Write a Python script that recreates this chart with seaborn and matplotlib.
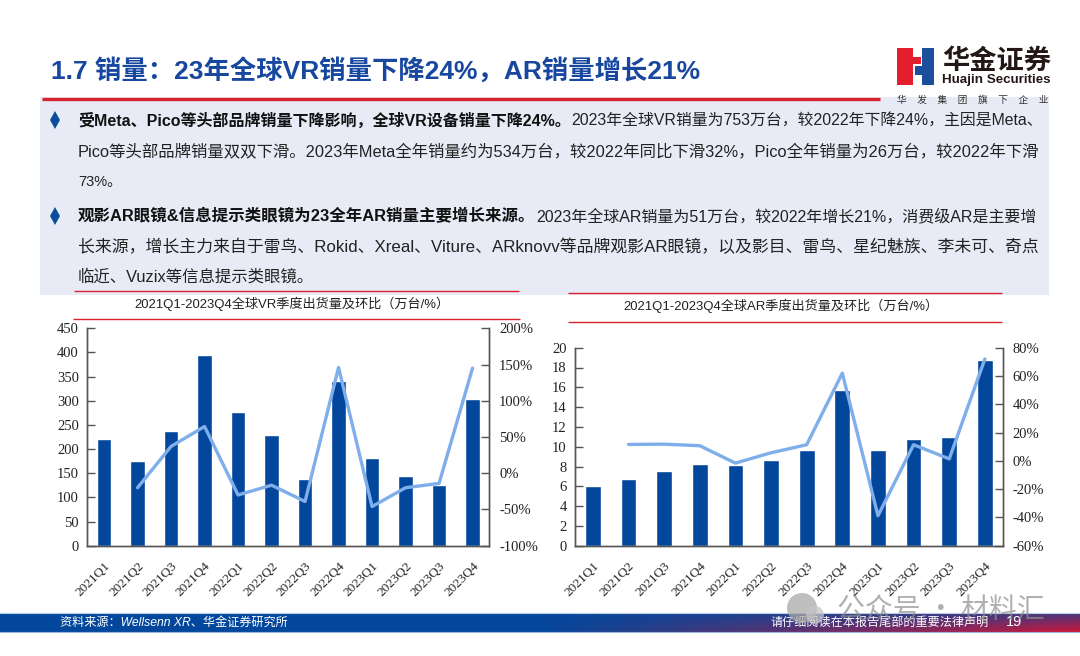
# VR / AR shipment slide
import numpy as np
import pandas as pd
import matplotlib
matplotlib.use('Agg')
import matplotlib.pyplot as plt
from matplotlib.patches import Rectangle, Circle
from matplotlib.ticker import FuncFormatter
import seaborn as sns

quarters = ['2021Q1', '2021Q2', '2021Q3', '2021Q4', '2022Q1', '2022Q2',
            '2022Q3', '2022Q4', '2023Q1', '2023Q2', '2023Q3', '2023Q4']
vr_units = [220, 176, 238, 394, 276, 230, 139, 341, 182, 144, 125, 303]
vr_qoq = [np.nan, -20, 37, 64.5, -30, -16.5, -39, 146, -46, -20, -14, 145]
ar_units = [6.0, 6.7, 7.5, 8.3, 8.2, 8.7, 9.7, 15.7, 9.7, 10.8, 11.0, 18.8]
ar_qoq = [np.nan, 11.6, 11.8, 10.7, -1.6, 5.7, 11.4, 62, -38.8, 11.4, 1.4, 72]

title = '1.7 销量：23年全球VR销量下降24%，AR销量增长21%'
vr_title = '2021Q1-2023Q4全球VR季度出货量及环比（万台/%）'
ar_title = '2021Q1-2023Q4全球AR季度出货量及环比（万台/%）'
body_lines = [
    (120.5, '受Meta、Pico等头部品牌销量下降影响，全球VR设备销量下降24%。',
     '2023年全球VR销量为753万台，较2022年下降24%，主因是Meta、', 1043),
    (151.5, '', 'Pico等头部品牌销量双双下滑。2023年Meta全年销量约为534万台，较2022年同比下滑32%，Pico全年销量为26万台，较2022年下滑', 1040),
    (182, '', '73%。', None),
    (216, '观影AR眼镜&信息提示类眼镜为23全年AR销量主要增长来源。',
     '2023年全球AR销量为51万台，较2022年增长21%，消费级AR是主要增', 1040),
    (246.5, '', '长来源，增长主力来自于雷鸟、Rokid、Xreal、Viture、ARknovv等品牌观影AR眼镜，以及影目、雷鸟、星纪魅族、李未可、奇点', 1040),
    (277, '', '临近、Vuzix等信息提示类眼镜。', 315),
]

W, H = 1080, 656
BLUE = '#03479C'
LINE = '#7FAEEA'
RED = '#D9232E'
slide_font = ['Liberation Sans', 'Noto Sans CJK SC']
tick_font = 'Liberation Serif'

sns.set_theme(style='white')
plt.rcParams['font.family'] = slide_font

fig = plt.figure(figsize=(W / 100, H / 100), dpi=100, facecolor='white')
bg = fig.add_axes([0, 0, 1, 1], zorder=0)
bg.set_xlim(0, W)
bg.set_ylim(H, 0)
bg.axis('off')
renderer = fig.canvas.get_renderer()


def fit_text(ax, x0, x1, y, s, **kw):
    # scale the font so the text spans x0..x1 pixels
    t = ax.text(x0, y, s, va='center', ha='left', **kw)
    t.set_fontsize(t.get_fontsize() * (x1 - x0) / t.get_window_extent(renderer).width)
    return t


def hline(x0, x1, y, lw=1.0):
    bg.plot([x0, x1], [y, y], color=RED, lw=lw, solid_capstyle='butt')


# panel, rules, title
bg.add_patch(Rectangle((40, 96.5), 1009, 198.5, color='#E8EBF6', lw=0))
hline(42, 880, 99, lw=2.4)
hline(74, 519, 291)
hline(568, 1002, 293)
hline(73, 520, 319)
hline(568, 1002, 321.5)
fit_text(bg, 51, 701, 71, title, color='#17479E', fontsize=17, fontweight='bold')

# logo
bg.add_patch(Rectangle((897, 48), 16, 37, color='#E31E2D', lw=0))
bg.add_patch(Rectangle((913, 57), 8, 7, color='#E31E2D', lw=0))
bg.add_patch(Rectangle((922, 48), 12, 37, color='#1B4F9C', lw=0))
bg.add_patch(Rectangle((915, 66), 7, 9, color='#1B4F9C', lw=0))
fit_text(bg, 942, 1051, 61, '华金证券', color='#231815', fontsize=19, fontweight='bold',
         family='Noto Sans CJK SC')
fit_text(bg, 942, 1051, 80, 'Huajin Securities', color='#231815', fontsize=9, fontweight='bold',
         family='Liberation Sans')
fit_text(bg, 897, 1049, 100, '     '.join('华发集团旗下企业'), color='#333333', fontsize=7,
         family='Noto Sans CJK SC')

# body text, bold lead then regular
for y, lead, rest, x_end in body_lines:
    x = 78
    if lead:
        n = fit_text(bg, 78, 571 if y < 200 else 534, y, lead, color='#111111',
                     fontsize=9, fontweight='bold')
        x = n.get_window_extent(renderer).x1 + 1
    if x_end is None:
        bg.text(x, y, rest, va='center', color='#222222', fontsize=10.5)
    else:
        fit_text(bg, x, x_end, y, rest, color='#222222', fontsize=9)
bg.plot([55, 55], [120, 216], ls='none', marker='d', ms=9, color='#0B4F9C', mew=0)

# footer band, blue turning red towards the lower right corner
xx, yy = np.meshgrid(np.linspace(0, 1, 300), np.linspace(0, 1, 20))
mix = np.clip((xx - 0.5) / 0.5, 0, 1) * (0.35 + 0.65 * yy)
band = np.zeros(xx.shape + (3,))
for i, (a, b) in enumerate(zip((3, 71, 156), (200, 24, 60))):
    band[..., i] = (a + (b - a) * mix) / 255
bg.imshow(band, extent=(0, W, 632, 613), aspect='auto', zorder=1)
bg.set_xlim(0, W)
bg.set_ylim(H, 0)
bg.plot([0, W], [612.8, 612.8], color='#B9CDE6', lw=0.8, zorder=2)
bg.plot([0, W], [632, 632], color='#9DB8DC', lw=0.8, zorder=2)
fit_text(bg, 60, 288, 622.5, '资料来源：Wellsenn XR、华金证券研究所', color='white',
         fontsize=8, style='italic', zorder=3)
fit_text(bg, 770, 988, 622.5, '请仔细阅读在本报告尾部的重要法律声明', color='white',
         fontsize=8, family='Noto Sans CJK SC', zorder=3)
bg.text(1014, 622.5, '19', color='white', fontsize=10.5, ha='center', va='center', zorder=3,
        family='Liberation Sans')


def combo(box, units, qoq, ymax, ystep, rmin, rmax, rstep, name, title_span, title_y):
    left, top, right, bottom = box
    ax = fig.add_axes([left / W, 1 - bottom / H, (right - left) / W, (bottom - top) / H], zorder=2)
    ax.patch.set_alpha(0)
    df = pd.DataFrame({'quarter': quarters, 'units': units, 'qoq': qoq, 'pos': range(len(quarters))})
    sns.barplot(data=df, x='quarter', y='units', color=BLUE, width=0.44, saturation=1, ax=ax)
    ax.set_xlim(-0.5, len(quarters) - 0.5)
    ax.set_ylim(0, ymax)
    ax.set_yticks(np.arange(0, ymax + ystep, ystep))
    ax.set_xlabel('')
    ax.set_ylabel('')
    ax.tick_params(axis='x', length=0, pad=10)
    ax.tick_params(axis='y', direction='in', length=5.5, width=1, color='#555555', pad=6)
    for lab in ax.get_xticklabels():
        lab.set(rotation=45, ha='right', rotation_mode='anchor', family=tick_font,
                fontsize=9.6, color='#222222')
    for lab in ax.get_yticklabels():
        lab.set(family=tick_font, fontsize=10.5, color='#222222')

    ax2 = ax.twinx()
    sns.lineplot(data=df, x='pos', y='qoq', color=LINE, lw=2.4, sort=False, ax=ax2)
    ax2.set_xlim(-0.5, len(quarters) - 0.5)
    ax2.set_ylim(rmin, rmax)
    ax2.set_yticks(np.arange(rmin, rmax + rstep, rstep))
    ax2.yaxis.set_major_formatter(FuncFormatter(lambda v, _: f'{v:.0f}%'))
    ax2.set_ylabel('')
    ax2.tick_params(axis='y', direction='in', length=5.5, width=1, color='#555555', pad=7)
    for lab in ax2.get_yticklabels():
        lab.set(family=tick_font, fontsize=10.5, color='#222222')

    for a in (ax, ax2):
        a.spines['top'].set_visible(False)
        for side in ('left', 'right', 'bottom'):
            a.spines[side].set_visible(True)
            a.spines[side].set_color('#555555')
            a.spines[side].set_linewidth(1)
    fit_text(bg, title_span[0], title_span[1], title_y, name, fontsize=9.5, color='#222222')


combo((87.3, 328.3, 489.3, 545.7), vr_units, vr_qoq, 450, 50, -100, 200, 50, vr_title, (134, 452), 304)
combo((575, 347.7, 1002.7, 545.7), ar_units, ar_qoq, 20, 2, -60, 80, 20, ar_title, (623, 940), 305.5)

# watermark over everything
top = fig.add_axes([0, 0, 1, 1], zorder=5)
top.set_xlim(0, W)
top.set_ylim(H, 0)
top.axis('off')
top.add_patch(Circle((802, 608), 15, color='#A8A8A8', alpha=0.75, lw=0))
top.add_patch(Circle((815, 615), 9, color='#C4C4C4', alpha=0.75, lw=0))
fit_text(top, 837, 1045, 610, '公众号 · 材料汇', fontsize=19, color='#8F8F8F', alpha=0.7,
         family='Noto Sans CJK SC', fontweight='light')

fig.savefig('out.png', dpi=100)
